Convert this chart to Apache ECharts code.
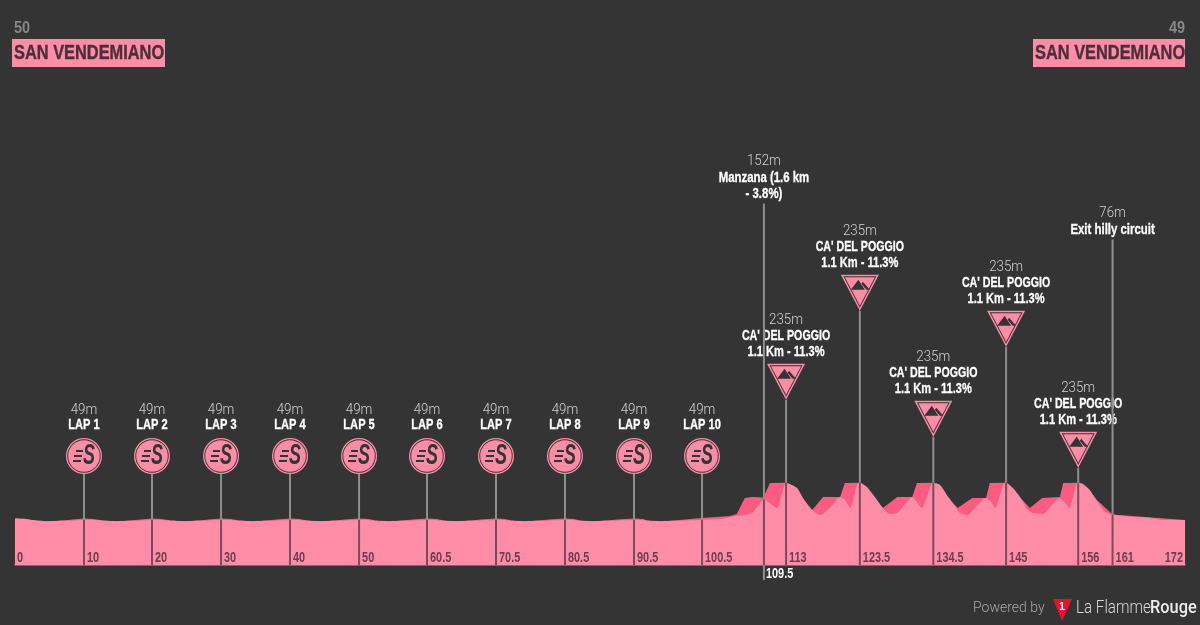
<!DOCTYPE html>
<html>
<head>
<meta charset="utf-8">
<title>San Vendemiano</title>
<style>html,body{margin:0;padding:0;background:#343434}#chart{width:1200px;height:625px}</style>
<script src="https://cdn.jsdelivr.net/npm/echarts@6/dist/echarts.min.js"></script>
</head>
<body>
<div id="chart"></div>
<script>
// front profile, light pink
var frontKm = [0,1.5,3,5,7,9,10.14,11,13,15,17,19,20.14,21,23,25,27,29,30.29,31,33,35,37,39,40.43,41.2,43,45,47,49,50.58,51.3,53,55,57,59,60.57,61.3,63,65,67,69,70.71,71.4,73,75,77,79,80.85,81.6,83,85,87,89,91,91.7,93,95,97,99,101,
	102,104,105.1,108.35,110.1,112,113.35,114.97,115.85,117.2,118.4,119.8,121.3,122,122.8,123.9,124.2,125.25,126.4,127.6,128.6,129.7,130.5,131.9,132.6,133.3,134.8,135,136,137.2,138.5,138.9,140.1,141.1,142.75,143.5,144.1,145.4,145.7,146.7,147.75,148.9,149.65,151.1,152.2,153.5,154.4,155,156.1,156.3,157,158,159.2,160.25,161.35,164.4,166.9,168.8,172];
var frontElev = [56,54,47,43,45,47,49,50,45,43,45,47,49,50,45,43,45,47,49,50,45,43,45,47,49,50,45,43,45,47,49,50,45,43,45,47,49,50,45,43,45,47,49,50,45,43,45,47,49,50,45,43,45,47,49,50,45,43,45,47,49,
	51,55,64,84,152,109,235,209,159,99,74,109,164,149,109,234,235,214,164,109,79,84,114,164,139,109,234,235,224,164,104,84,74,109,159,139,109,234,235,209,164,99,84,79,114,159,134,109,234,235,229,199,139,89,76,64,59,49,49];
// back profile, darker pink
var backKm = [0,1.5,3,5,7,8.5,10.14,11.5,13,15,17,18.5,20.14,21.5,23,25,27,28.5,30.29,31.7,33,35,37,38.5,40.43,41.8,43,45,47,48.5,50.58,52,53,55,57,58.5,60.57,62,63,65,67,68.5,70.71,72,73,75,77,78.5,80.85,82.2,83,85,87,88.5,91,92.3,93,95,97,98.5,101,
	105.1,106.1,107.3,108.35,110,111,113.2,117.2,118.8,121.3,122,124.2,127.6,129.7,131.9,132.6,135,138.6,140.7,142.75,143.3,145.7,149.2,151,153.6,154.1,156.3,161.35,172];
var backElev = [56,54,47,43,46,52,57,54,46,43,46,52,57,54,46,43,46,52,57,54,46,43,46,52,57,54,46,43,46,52,57,54,46,43,46,52,57,54,46,43,46,52,57,54,46,43,46,52,57,54,46,43,46,52,57,54,46,43,46,52,59,
	69,79,159,164,162,234,235,99,164,164,234,235,109,164,164,234,235,109,159,159,234,235,109,159,164,234,235,76,49];

var lapKm = [10.14,20.14,30.29,40.43,50.58,60.57,70.71,80.85,91,101];
var lapElev = [49,49,49,49,49,49,49,49,49,49];
var lapNames = ['LAP 1','LAP 2','LAP 3','LAP 4','LAP 5','LAP 6','LAP 7','LAP 8','LAP 9','LAP 10'];

var climbKm = [113.35,124.2,135,145.7,156.3];
var climbElev = [235,235,235,235,235];
var climbName = "CA' DEL POGGIO";
var climbInfo = '1.1 Km - 11.3%';

var pointKm = [110.1,161.35];
var pointElev = [152,76];
var pointLines = [['Manzana (1.6 km','- 3.8%)'],['Exit hilly circuit']];

var tickKm = [0,10.14,20.14,30.29,40.43,50.58,60.57,70.71,80.85,91,101,113.35,124.2,135,145.7,156.3,161.35,172];
var tickElev = [56,49,49,49,49,49,49,49,49,49,49,235,235,235,235,235,76,49];
var tickLabels = ['0','10','20','30','40','50','60.5','70.5','80.5','90.5','100.5','113','123.5','134.5','145','156','161','172'];
var sprintTickKm = 110.1;
var sprintTickElev = 152;
var sprintTickLabel = '109.5';

var startName = 'SAN VENDEMIANO', startElev = '50';
var finishName = 'SAN VENDEMIANO', finishElev = '49';

function zip(a,b){
	var out=[];
	for(var i=0;i<a.length;i++) out.push([a[i],b[i]]);
	return out;
}

var PINK='#ff8da7', DEEP='#fd5c82', BG='#343434', POLE='#8e8e8e', UNDER='#7c4a59';
var SANS='"Liberation Sans",sans-serif';
var THIN='Roboto,sans-serif';
var climbLift = [83,172,46,136,15];
var pointLift = [296,275];
var SQUEEZE=0.74;//no condensed face installed, so the text is narrowed by hand

function txt(x,y,s,style,sx){
	return {type:'text',x:x,y:y,scaleX:sx||1,silent:true,style:Object.assign({text:s,align:'center',verticalAlign:'middle'},style)};
}
function elevText(x,y,m){ return txt(x,y,m+'m',{fill:'#d2d2d2',font:'300 14px '+THIN},0.95); }
function nameText(x,y,s,sx){ return txt(x,y,s,{fill:'#fff',font:'bold 15px '+SANS,stroke:'#fff',lineWidth:0.3},sx||SQUEEZE); }
function stem(x,y1,y2,col){
	return {type:'line',shape:{x1:x,y1:y1,x2:x,y2:y2},style:{stroke:col,lineWidth:2}};
}

function drawLap(params,api){
	var p=api.coord([api.value(0),api.value(1)]);
	var x=p[0], y=p[1], tip=y-47, cy=tip-17, i=params.dataIndex;
	return {type:'group',children:[
		stem(x,tip,y,POLE),
		{type:'circle',shape:{cx:x,cy:cy,r:18},style:{fill:PINK}},
		{type:'circle',shape:{cx:x,cy:cy,r:16.7},style:{fill:BG}},
		{type:'circle',shape:{cx:x,cy:cy,r:15.8},style:{fill:PINK}},
		{type:'rect',shape:{x:x-8,y:cy-6,width:7,height:2},style:{fill:BG}},
		{type:'rect',shape:{x:x-10,y:cy-1,width:8,height:2},style:{fill:BG}},
		{type:'rect',shape:{x:x-11,y:cy+4,width:8,height:2},style:{fill:BG}},
		txt(x+5,cy,'S',{fill:BG,font:'italic bold 29px '+SANS},0.62),
		elevText(x,cy-46,api.value(1)),
		nameText(x,cy-31,lapNames[i])
	]};
}

function drawClimb(params,api){
	var p=api.coord([api.value(0),api.value(1)]);
	var x=p[0], y=p[1], tip=y-climbLift[params.dataIndex], top=tip-36;
	return {type:'group',children:[
		stem(x,tip,y,POLE),
		{type:'polygon',shape:{points:[[x-19,top],[x+19,top],[x,tip]]},style:{fill:PINK}},
		{type:'polygon',shape:{points:[[x-16.5,top+1.5],[x+16.5,top+1.5],[x,tip-3]]},style:{fill:BG}},
		{type:'polygon',shape:{points:[[x-15,top+2.5],[x+15,top+2.5],[x,tip-5]]},style:{fill:PINK}},
		{type:'polygon',shape:{points:[[x-9,top+15],[x-1.5,top+5],[x+5,top+15]]},style:{fill:BG}},
		{type:'polygon',shape:{points:[[x+3,top+7],[x+10,top+15],[x+6.5,top+15],[x+1.5,top+9]]},style:{fill:BG}},
		elevText(x,top-43,api.value(1)),
		nameText(x,top-28,climbName,0.71),
		nameText(x,top-12,climbInfo)
	]};
}

function drawPoint(params,api){
	var p=api.coord([api.value(0),api.value(1)]);
	var x=p[0], y=p[1], i=params.dataIndex, top=y-pointLift[i], lines=pointLines[i];
	var kids=[stem(x,top,y,POLE),elevText(x,top-10-lines.length*16,api.value(1))];
	for(var k=0;k<lines.length;k++){
		kids.push(nameText(x,top-10-(lines.length-1-k)*16,lines[k],0.76));
	}
	return {type:'group',children:kids};
}

function drawTick(params,api){
	var km=api.value(0), i=params.dataIndex;
	var g=api.coord([km,api.value(1)]), b=api.coord([km,yMin]);
	var kids=[];
	var first=i==0, last=i==tickKm.length-1;
	if(!first && !last) kids.push(stem(b[0],g[1],b[1],UNDER));
	kids.push({type:'text',x:b[0]+(last?-2:first?2:3),y:b[1]-7,scaleX:0.78,silent:true,style:{
		text:tickLabels[i],align:last?'right':'left',verticalAlign:'middle',
		fill:'#6d3e4d',font:'bold 14px '+SANS}});
	return {type:'group',children:kids};
}

function drawSprintTick(params,api){
	var km=api.value(0);
	var g=api.coord([km,api.value(1)]), b=api.coord([km,yMin]);
	return {type:'group',children:[
		stem(b[0],g[1],b[1],UNDER),
		stem(b[0],b[1],b[1]+15,POLE),
		{type:'text',x:b[0]+2,y:b[1]+9,scaleX:0.78,silent:true,style:{text:sprintTickLabel,align:'left',verticalAlign:'middle',fill:'#fff',font:'bold 14px '+SANS}}
	]};
}

// elevation scale: 5 m per pixel, ground line far under zero
var yMin=-176, yMax=2149;

var option = {
	backgroundColor: BG,
	animation: false,
	grid: {left:15,right:15,top:100,bottom:60},
	xAxis: {type:'value',min:0,max:172,splitLine:{show:false},axisTick:{show:false},axisLabel:{show:false},
		axisLine:{show:true,onZero:false,lineStyle:{color:'#8a6070',width:2}}},
	yAxis: {type:'value',min:yMin,max:yMax,show:false,splitLine:{show:false}},
	series: [
		{type:'line',data:zip(backKm,backElev),symbol:'none',lineStyle:{width:0},areaStyle:{color:DEEP,opacity:1,origin:'start'},z:2},
		{type:'line',data:zip(frontKm,frontElev),symbol:'none',smooth:0.2,lineStyle:{width:0},areaStyle:{color:PINK,opacity:1,origin:'start'},z:3},
		{type:'custom',data:zip(tickKm,tickElev),renderItem:drawTick,z:4},
		{type:'custom',data:[[sprintTickKm,sprintTickElev]],renderItem:drawSprintTick,z:4},
		{type:'custom',data:zip(lapKm,lapElev),renderItem:drawLap,z:5},
		{type:'custom',data:zip(climbKm,climbElev),renderItem:drawClimb,z:5},
		{type:'custom',data:zip(pointKm,pointElev),renderItem:drawPoint,z:5}
	],
	graphic: [
		{type:'rect',shape:{x:12,y:39,width:153,height:28},style:{fill:PINK}},
		{type:'rect',shape:{x:1033,y:39,width:152,height:28},style:{fill:PINK}},
		{type:'text',x:14,y:28,scaleX:0.85,style:{text:startElev,fill:'#888',font:'bold 17px '+SANS,verticalAlign:'middle'}},
		{type:'text',x:1185,y:28,scaleX:0.85,style:{text:finishElev,fill:'#888',font:'bold 17px '+SANS,align:'right',verticalAlign:'middle'}},
		{type:'text',x:14,y:53,scaleX:0.78,style:{text:startName,fill:'#4a2f38',stroke:'#4a2f38',lineWidth:0.4,font:'bold 21px '+SANS,verticalAlign:'middle'}},
		{type:'text',x:1035,y:53,scaleX:0.78,style:{text:finishName,fill:'#4a2f38',stroke:'#4a2f38',lineWidth:0.4,font:'bold 21px '+SANS,verticalAlign:'middle'}},
		{type:'text',x:973,y:608,style:{text:'Powered by',fill:'#a8a8a8',font:'300 14px '+THIN,verticalAlign:'middle'}},
		{type:'polygon',shape:{points:[[1053,599],[1072,599],[1062,621]]},style:{fill:'#e3132d'}},
		{type:'text',x:1062,y:607,style:{text:'1',fill:'#fff',font:'bold 10px '+SANS,align:'center',verticalAlign:'middle'}},
		{type:'text',x:1076,y:608,scaleX:0.8,style:{text:'La Flamme',fill:'#d8d8d8',font:'300 19px '+THIN,verticalAlign:'middle'}},
		{type:'text',x:1150,y:608,scaleX:0.86,style:{text:'Rouge',fill:'#ececec',font:'500 19px '+THIN,verticalAlign:'middle'}}
	]
};

var myChart = echarts.init(document.getElementById('chart'));
myChart.setOption(option);
</script>
</body>
</html>
